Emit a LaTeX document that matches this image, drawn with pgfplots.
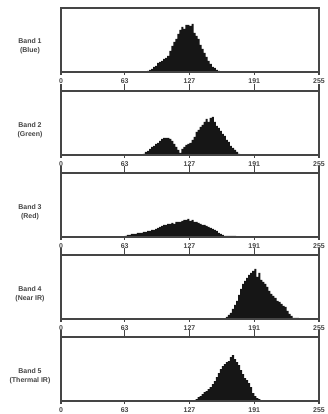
\documentclass[border=0pt]{standalone}
\usepackage{fontspec}
\setmainfont{Liberation Sans}
\usepackage{pgfplots}
\pgfplotsset{compat=1.18}
\usepackage{pgfplotstable}
\definecolor{frame}{HTML}{454545}
\definecolor{histo}{HTML}{161616}

\pgfplotstableread{
x h
84 0
86 1
88 2
90 3
92 5
94 6
96 9
98 10
100 11
102 13
104 14
106 16
108 21
110 26
112 30
114 33
116 38
118 42
120 45
122 43
124 47
126 47
128 46
130 48
132 39
134 36
136 33
138 27
140 23
142 19
144 15
146 11
148 8
150 5
152 4
154 2
156 1
158 0
}\bandA

\pgfplotstableread{
x h
80 0
82 1
84 3
86 4
88 6
90 8
92 9
94 11
96 12
98 14
100 16
102 17
104 17
106 17
108 16
110 14
112 11
114 8
116 5
118 2
120 6
122 8
124 10
126 11
128 12
130 15
132 18
134 23
136 25
138 28
140 30
142 33
144 36
146 33
148 37
150 38
152 33
154 29
156 27
158 24
160 21
162 19
164 15
166 13
168 9
170 7
172 5
174 3
176 1
178 0
}\bandB

\pgfplotstableread{
x h
62 0
64 1
66 2
68 2
70 3
72 3
74 3
76 4
78 4
80 4
82 5
84 5
86 6
88 6
90 7
92 7
94 8
96 9
98 10
100 11
102 12
104 12
106 13
108 13
110 14
112 13
114 15
116 15
118 15
120 16
122 17
124 17
126 18
128 16
130 17
132 15
134 15
136 14
138 13
140 12
142 12
144 11
146 10
148 9
150 8
152 7
154 6
156 4
158 3
160 2
162 1
164 1
166 1
168 1
170 1
172 1
174 0
}\bandC

\pgfplotstableread{
x h
162 0
164 2
166 4
168 6
170 10
172 14
174 18
176 24
178 30
180 35
182 38
184 41
186 44
188 46
190 48
192 50
194 42
196 46
198 39
200 37
202 35
204 32
206 28
208 25
210 23
212 21
214 18
216 17
218 15
220 13
222 12
224 8
226 5
228 3
230 1
232 1
234 1
236 0
}\bandD

\pgfplotstableread{
x h
132 0
134 2
136 4
138 5
140 7
142 9
144 10
146 12
148 14
150 17
152 20
154 24
156 28
158 32
160 35
162 37
164 39
166 40
168 44
170 46
172 42
174 39
176 36
178 31
180 27
182 23
184 21
186 18
188 14
190 8
192 5
194 3
196 2
198 1
200 0
}\bandE

\pgfplotsset{
  base/.style={
    scale only axis, width=258bp, height=64bp,
    anchor=south west,
    xmin=0, xmax=255, ymin=0, ymax=64,
    xtick={0,63,127,191,255},
    ytick=\empty,
    tick align=outside,
    every tick/.style={draw=frame, line width=1.2bp},
  },
  hist/.style={
    base,
    major tick length=3bp,
    xtick pos=lower,
    xticklabel pos=lower,
    axis line style={draw=frame, line width=1.2bp},
    tick label style={font=\bfseries\fontsize{7}{8}\selectfont, text=frame},
    /pgf/number format/assume math mode=true,
    axis on top,
  },
  toptick/.style={
    base,
    axis x line*=top, axis y line=none,
    x axis line style={draw=frame, line width=1.2bp, -},
    major tick length=7bp,
    xticklabels={},
  },
}
\newcommand{\bandlabel}[3]{%
  \node[align=center, font=\bfseries\fontsize{7}{8.5}\selectfont, text=frame] at (30bp,#1) {#2\\#3};}

\begin{document}
\begin{tikzpicture}
\path[use as bounding box] (0,0) rectangle (328bp,414bp);

\begin{axis}[hist, at={(61bp,342bp)}]
\addplot[fill=histo, draw=none, const plot mark mid] table[x=x,y=h] {\bandA} \closedcycle;
\end{axis}
\bandlabel{368bp}{Band 1}{(Blue)}

\begin{axis}[hist, at={(61bp,259bp)}]
\addplot[fill=histo, draw=none, const plot mark mid] table[x=x,y=h] {\bandB} \closedcycle;
\end{axis}
\begin{axis}[toptick, at={(61bp,259bp)}]
\end{axis}
\bandlabel{284bp}{Band 2}{(Green)}

\begin{axis}[hist, at={(61bp,177bp)}]
\addplot[fill=histo, draw=none, const plot mark mid] table[x=x,y=h] {\bandC} \closedcycle;
\end{axis}
\begin{axis}[toptick, at={(61bp,177bp)}]
\end{axis}
\bandlabel{202bp}{Band 3}{(Red)}

\begin{axis}[hist, at={(61bp,95bp)}]
\addplot[fill=histo, draw=none, const plot mark mid] table[x=x,y=h] {\bandD} \closedcycle;
\end{axis}
\begin{axis}[toptick, at={(61bp,95bp)}]
\end{axis}
\bandlabel{120bp}{Band 4}{(Near IR)}

\begin{axis}[hist, at={(61bp,13bp)}]
\addplot[fill=histo, draw=none, const plot mark mid] table[x=x,y=h] {\bandE} \closedcycle;
\end{axis}
\begin{axis}[toptick, at={(61bp,13bp)}]
\end{axis}
\bandlabel{38bp}{Band 5}{(Thermal IR)}

\end{tikzpicture}
\end{document}
